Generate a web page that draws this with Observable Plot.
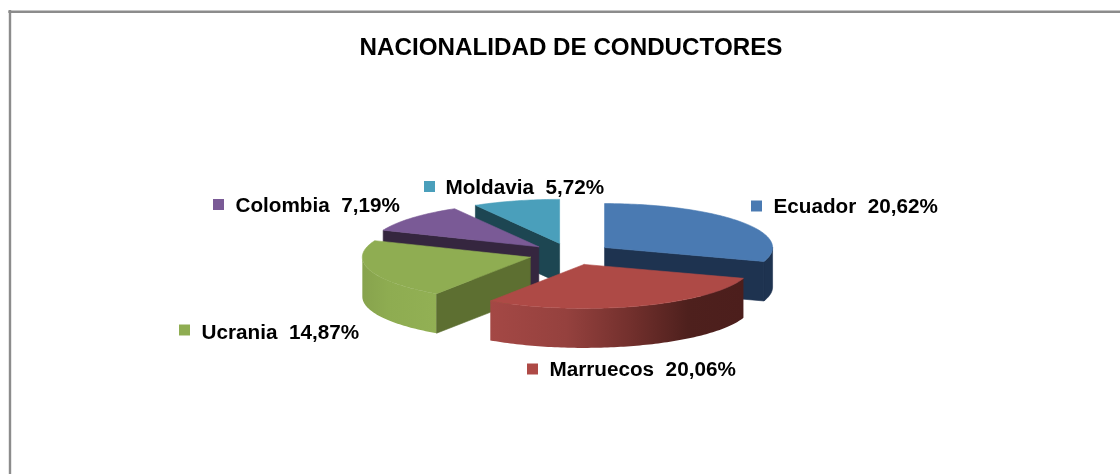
<!DOCTYPE html>
<html>
<head>
<meta charset="utf-8">
<script src="https://cdn.jsdelivr.net/npm/d3@7"></script>
<script src="https://cdn.jsdelivr.net/npm/@observablehq/plot@0.6"></script>
<style>
html,body{margin:0;padding:0;background:#fff;overflow:hidden}
svg{display:block;filter:blur(0.45px)}
</style>
</head>
<body>
<div id="chart"></div>
<script>
// Data
const chartTitle = "NACIONALIDAD DE CONDUCTORES";
const categories = ["Ecuador", "Marruecos", "Ucrania", "Colombia", "Moldavia"];
const percentages = [20.62, 20.06, 14.87, 7.19, 5.72];

// Styles, per category
const topColors = ["#4a7ab2", "#ae4a46", "#8fad52", "#7a5a96", "#4a9fbb"];
const cutColors = ["#1e3350", "#4e1f1d", "#5d6f31", "#35263f", "#1d4652"];
const sideFills = ["#1e3350", "url(#sideMarruecos)", "url(#sideUcrania)", "#35263f", "#1d4652"];
const paintOrder = ["Moldavia", "Colombia", "Ecuador", "Ucrania", "Marruecos"];

// Layout, in pixels
const W = 1120, H = 474;
const cx = 570, cy = 253.5, rx = 168, ry = 44, depthPx = 39.5, explodePx = 42;
const labelLayout = {
  Ecuador:   {sx: 756, sy: 205.5, tx: 773, ty: 206},
  Marruecos: {sx: 532, sy: 368.5, tx: 549, ty: 369},
  Ucrania:   {sx: 184, sy: 329.5, tx: 201, ty: 332},
  Colombia:  {sx: 218, sy: 204,   tx: 235, ty: 205},
  Moldavia:  {sx: 429, sy: 186,   tx: 445, ty: 187}
};

// Pie geometry in unit-circle coordinates; the x and y scales place it on the page
const unitX = px => (px - cx) / rx;
const unitY = py => (py - cy) / ry;
const depth = depthPx / ry;
const explode = explodePx / rx;

const arcs = d3.pie().sort(null)(percentages);
const slices = categories.map((name, i) => {
  const {startAngle: a0, endAngle: a1} = arcs[i];
  const mid = (a0 + a1) / 2;
  return {name, i, a0, a1, ox: explode * Math.sin(mid), oy: -explode * Math.cos(mid)};
});

const rim = (s, a, z = 0) => ({x: s.ox + Math.sin(a), y: s.oy - Math.cos(a) + z});
const hub = (s, z = 0) => ({x: s.ox, y: s.oy + z});
const arcPoints = (s, a0, a1, z = 0) => {
  const n = Math.max(2, Math.ceil((a1 - a0) / 0.02));
  return d3.range(n + 1).map(k => rim(s, a0 + (a1 - a0) * k / n, z));
};
const facePolygon = (pts, fill) => Plot.line([...pts, pts[0]], {
  x: "x", y: "y", fill, stroke: fill.startsWith("url") ? "none" : fill, strokeWidth: 0.6, curve: "linear"
});

function sliceMarks(s) {
  const marks = [];
  // Outer wall: the part of the rim that faces the viewer
  const w0 = Math.max(s.a0, Math.PI / 2), w1 = Math.min(s.a1, Math.PI * 1.5);
  if (w1 > w0) {
    marks.push(facePolygon(
      [...arcPoints(s, w0, w1), ...arcPoints(s, w0, w1, depth).reverse()],
      sideFills[s.i]
    ));
  }
  // Cut walls: only those whose outward normal points down the page
  const cut = a => facePolygon([hub(s), rim(s, a), rim(s, a, depth), hub(s, depth)], cutColors[s.i]);
  if (Math.sin(s.a0) < -1e-6) marks.push(cut(s.a0));
  if (Math.sin(s.a1) > 1e-6) marks.push(cut(s.a1));
  // Top face
  marks.push(facePolygon([hub(s), ...arcPoints(s, s.a0, s.a1)], topColors[s.i]));
  return marks;
}

const labelRows = slices.map(s => ({
  text: `${s.name}\u00a0 ${percentages[s.i].toFixed(2).replace(".", ",")}%`,
  fill: topColors[s.i],
  ...labelLayout[s.name]
}));

const defs = () => {
  const el = d3.create("svg:defs");
  el.html(`
    <linearGradient id="sideMarruecos" x1="0" x2="1" y1="0" y2="0">
      <stop offset="0" stop-color="#a44845"/>
      <stop offset="0.3" stop-color="#95413e"/>
      <stop offset="0.55" stop-color="#73302d"/>
      <stop offset="0.78" stop-color="#4e201d"/>
      <stop offset="1" stop-color="#4c1e1c"/>
    </linearGradient>
    <linearGradient id="sideUcrania" x1="0" x2="1" y1="0" y2="0">
      <stop offset="0" stop-color="#87a34d"/>
      <stop offset="0.35" stop-color="#8eac51"/>
      <stop offset="1" stop-color="#92b054"/>
    </linearGradient>`);
  return el.node();
};

const textFont = "'Liberation Sans', Arial, sans-serif";

const chart = Plot.plot({
  width: W, height: H,
  margin: 0,
  style: {background: "#fff", overflow: "hidden"},
  x: {domain: [unitX(0), unitX(W)], range: [0, W], axis: null},
  y: {domain: [unitY(0), unitY(H)], range: [0, H], axis: null},
  marks: [
    defs,
    // Chart area border: left and top edges
    Plot.ruleX([unitX(9.5)], {y1: unitY(10), y2: unitY(H), stroke: "#8c8c8c", strokeWidth: 2.4}),
    Plot.ruleY([unitY(11.3)], {x1: unitX(8.3), x2: unitX(W), stroke: "#8c8c8c", strokeWidth: 2.4}),
    // Slices, back to front
    ...paintOrder.flatMap(n => sliceMarks(slices.find(s => s.name === n))),
    // Title
    Plot.text([chartTitle], {
      x: unitX(570.5), y: unitY(47), text: d => d,
      fontFamily: textFont, fontWeight: "bold", fontSize: 24.2, fill: "#000", textAnchor: "middle"
    }),
    // Labels and their keys
    Plot.dot(labelRows, {
      x: d => unitX(d.sx), y: d => unitY(d.sy), symbol: "square", r: 6.2,
      fill: d => d.fill, stroke: "none"
    }),
    Plot.text(labelRows, {
      x: d => unitX(d.tx), y: d => unitY(d.ty), text: "text",
      fontFamily: textFont, fontWeight: "bold", fontSize: 20.7, fill: "#000", textAnchor: "start"
    })
  ],
  color: {type: "identity"},
  symbol: {type: "identity"}
});
document.getElementById("chart").append(chart);
</script>
</body>
</html>
